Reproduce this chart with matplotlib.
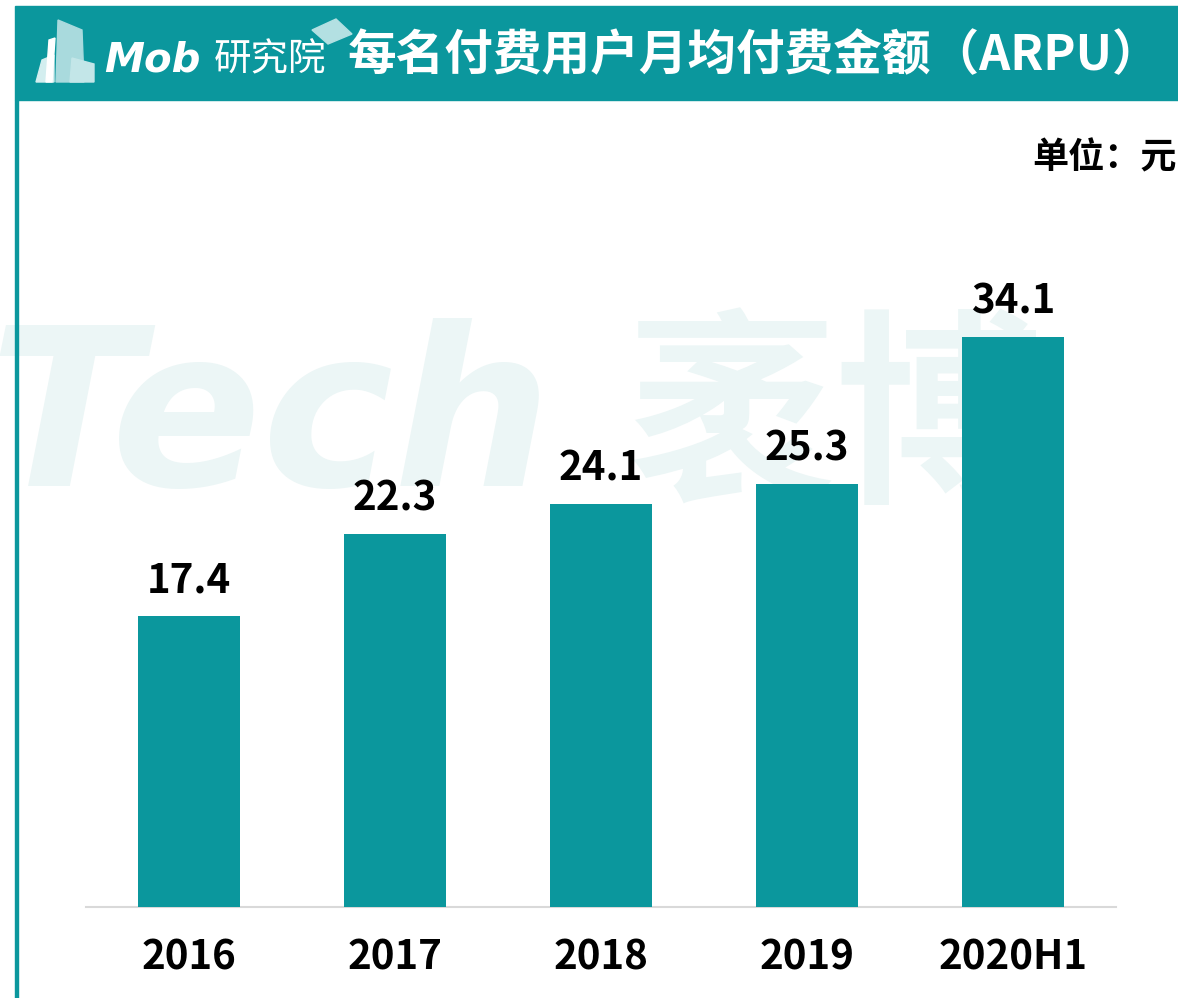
import matplotlib.pyplot as plt
from matplotlib.patches import Rectangle, Polygon

plt.rcParams['font.family'] = ['Noto Sans CJK SC', 'DejaVu Sans']

# data
years = ["2016", "2017", "2018", "2019", "2020H1"]
arpu = [17.4, 22.3, 24.1, 25.3, 34.1]
title = "每名付费用户月均付费金额（ARPU）"
unit = "单位：元"

teal = "#0b979d"
W, H = 1178, 998

fig = plt.figure(figsize=(W / 100, H / 100), dpi=100)

def fx(px):
    return px / W

def fy(py):
    return 1 - py / H

def poly(pts, color, z=1):
    fig.patches.append(Polygon([(fx(a), fy(b)) for a, b in pts], closed=True,
                               transform=fig.transFigure, color=color, zorder=z))

# header band and left border
fig.patches.append(Rectangle((fx(15), fy(100)), fx(W - 15), 94 / H,
                             transform=fig.transFigure, color=teal, zorder=0))
fig.patches.append(Rectangle((fx(15), 0), 3 / W, fy(100),
                             transform=fig.transFigure, color=teal, zorder=0))

# logo: rough building shapes + graduation cap
poly([(56, 82), (58, 20), (82, 30), (84, 82)], "#a9dadd")
poly([(36, 82), (42, 60), (54, 55), (54, 82)], "#d3eeef")
poly([(70, 82), (72, 58), (94, 64), (94, 82)], "#c3e6e8")
poly([(46, 82), (49, 40), (55, 38), (52, 82)], "white", 2)
poly([(312, 30), (336, 19), (352, 34), (328, 44)], "#b3e0e2")
fig.text(fx(104), fy(60), "Mob", color="white", fontsize=29, style="italic",
         fontweight="bold", family=["DejaVu Sans"], va="center", ha="left")
fig.text(fx(214), fy(60), "研究院", color="white", fontsize=27,
         va="center", ha="left")
fig.text(fx(348), fy(56), title, color="white", fontsize=35, fontweight="bold",
         va="center", ha="left")

fig.text(fx(1177), fy(158), unit, fontsize=26, fontweight="bold", ha="right", va="center")

# bar chart
ax = fig.add_axes([fx(86), fy(907), (1116 - 86) / W, (907 - 155) / H])
ax.patch.set_alpha(0)

# faint watermark behind the bars
ax.text(fx(-12), fy(425), "Tech", transform=fig.transFigure, fontsize=160,
        style="italic", fontweight="bold", family=["DejaVu Sans"],
        color="#ecf6f6", va="center", ha="left", zorder=1, clip_on=False)
ax.text(fx(628), fy(425), "袤博", transform=fig.transFigure, fontsize=150,
        fontweight="bold", color="#ecf6f6", va="center", ha="left", zorder=1,
        clip_on=False)

x = range(len(years))
ax.bar(x, arpu, width=0.495, color=teal, zorder=3)
for i, v in enumerate(arpu):
    ax.text(i, v + 2.1, f"{v}", ha="center", va="center", fontsize=29,
            fontweight="bold", zorder=4)

ax.set_xlim(-0.5, len(years) - 0.5)
ax.set_ylim(0, 45)
ax.set_xticks(list(x))
ax.set_xticklabels(years, fontsize=29, fontweight="bold")
ax.tick_params(axis="x", length=0, pad=22)
ax.set_yticks([])
for side in ["top", "right", "left"]:
    ax.spines[side].set_visible(False)
ax.spines["bottom"].set_color("#d9d9d9")
ax.spines["bottom"].set_linewidth(1.5)

fig.savefig("out.png", dpi=100)
